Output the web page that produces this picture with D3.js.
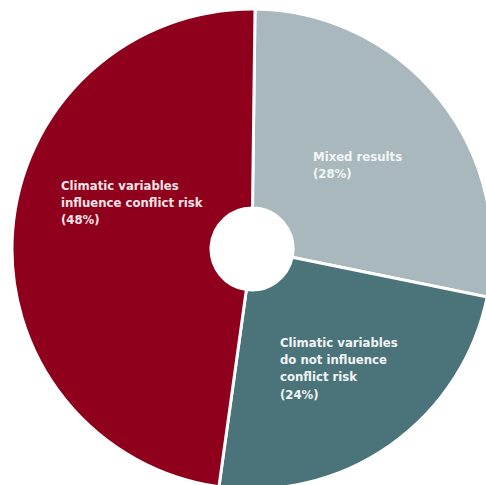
<!DOCTYPE html>
<html>
<head>
<meta charset="utf-8">
<script src="https://cdn.jsdelivr.net/npm/d3@7"></script>
<style>
  html, body { margin: 0; padding: 0; background: #fff; overflow: hidden; }
  svg { display: block; }
</style>
</head>
<body>
<div id="chart"></div>
<script>
const categories = ['Mixed results', 'Climatic variables do not influence conflict risk', 'Climatic variables influence conflict risk'];
const values = [28, 24, 48];
const colors = ['#a9b8bc', '#4a7479', '#8e001b'];
const labelLines = [
  ['Mixed results', '(28%)'],
  ['Climatic variables', 'do not influence', 'conflict risk', '(24%)'],
  ['Climatic variables', 'influence conflict risk', '(48%)']
];
// label anchor (left edge, first baseline) relative to centre
const labelOffsets = [[61, -88], [28, 98], [-191, -59]];

const width = 486, height = 485;
const cx = 252, cy = 249;
const outerR = 240, innerR = 41;

const svg = d3.select('#chart').append('svg')
  .attr('width', width).attr('height', height)
  .attr('viewBox', `0 0 ${width} ${height}`);

const g = svg.append('g').attr('transform', `translate(${cx},${cy})`);

const pie = d3.pie().sort(null).value(d => d)
  .startAngle(0.004 * Math.PI).endAngle(2.004 * Math.PI);
const arc = d3.arc().innerRadius(innerR).outerRadius(outerR);

const arcs = pie(values);

g.selectAll('path.slice')
  .data(arcs)
  .join('path')
  .attr('class', 'slice')
  .attr('d', arc)
  .attr('fill', (d, i) => colors[i])
  .attr('stroke', '#fff')
  .attr('stroke-width', 3)
  .attr('stroke-linejoin', 'miter');

const labels = g.selectAll('text.label')
  .data(arcs)
  .join('text')
  .attr('class', 'label')
  .attr('x', (d, i) => labelOffsets[i][0])
  .attr('y', (d, i) => labelOffsets[i][1])
  .attr('fill', (d, i) => i === 2 ? '#f4e4e7' : '#f2f5f6')
  .style('font-family', '"DejaVu Sans Condensed", "DejaVu Sans", sans-serif')
  .style('font-weight', 'bold')
  .style('font-size', '13px');

labels.each(function(d, i) {
  const t = d3.select(this);
  labelLines[i].forEach((line, j) => {
    t.append('tspan')
      .attr('x', labelOffsets[i][0])
      .attr('dy', j === 0 ? 0 : 17.2)
      .text(line);
  });
});
</script>
</body>
</html>
